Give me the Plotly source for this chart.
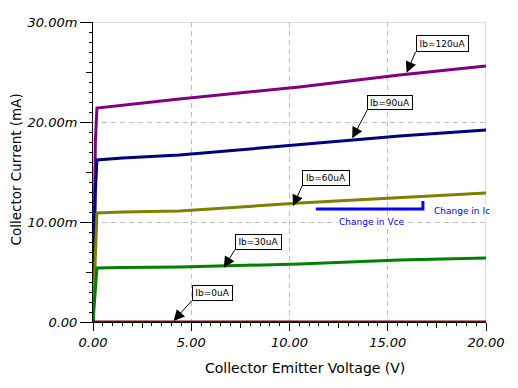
import plotly.graph_objects as go

# ---- data ----
vce = [0, 0.05, 0.12, 0.2, 1.5, 4.4, 10.5, 15.6, 20]
ic_120 = [0, 6, 18, 21.4, 21.7, 22.3, 23.5, 24.7, 25.6]
ic_90 = [0, 5, 13, 16.2, 16.4, 16.7, 17.7, 18.6, 19.2]
ic_60 = [0, 3, 8, 10.9, 11.0, 11.1, 11.9, 12.4, 12.9]
ic_30 = [0, 1.5, 4, 5.4, 5.45, 5.5, 5.8, 6.2, 6.4]
ic_0 = [0, 0, 0, 0, 0, 0, 0, 0, 0]

series_names = ["Ib=120uA", "Ib=90uA", "Ib=60uA", "Ib=30uA", "Ib=0uA"]
series_vals = [ic_120, ic_90, ic_60, ic_30, ic_0]
series_colors = ["#800080", "#000080", "#808000", "#008000", "#800000"]

# label arrow head points (Vce, Ic) on each curve
label_head_x = [15.96, 13.19, 10.18, 6.66, 4.10]
label_head_y = [24.93, 18.37, 11.6, 5.43, 0.1]

x_ticks = [0, 5, 10, 15, 20]
x_ticktext = ["0.00", "5.00", "10.00", "15.00", "20.00"]
y_ticks = [0, 10, 20, 30]
y_ticktext = ["0.00", "10.00m", "20.00m", "30.00m"]

# "change in" bracket
change_x = [11.34, 16.79, 16.79]
change_y = [11.3, 11.3, 12.1]

FONT = "DejaVu Sans"

fig = go.Figure()
for name, vals, col in zip(series_names, series_vals, series_colors):
    fig.add_trace(go.Scatter(x=vce, y=vals, mode="lines", name=name,
                             line=dict(color=col, width=3), cliponaxis=False,
                             hoverinfo="skip"))

# bracket
fig.add_trace(go.Scatter(x=change_x, y=change_y, mode="lines",
                         line=dict(color="#0000ff", width=3), hoverinfo="skip"))

# dummy trace for medium-tick overlay axes
fig.add_trace(go.Scatter(x=[None], y=[None], xaxis="x2", yaxis="y2",
                         mode="lines", hoverinfo="skip"))

# annotation boxes
box_offsets = [(9, -21), (15, -28), (9, -20), (11, -18), (18, -20)]
box_sizes = [(53, 17), (46, 15), (48, 16), (47, 16), (41, 16)]
for name, hx, hy, (ax, ay), (w, h) in zip(series_names, label_head_x, label_head_y,
                                         box_offsets, box_sizes):
    fig.add_annotation(x=hx, y=hy, ax=ax, ay=ay, text=name, showarrow=True,
                       arrowhead=2, arrowsize=2.2, arrowwidth=1, arrowcolor="black",
                       xanchor="left", yanchor="bottom",
                       bordercolor="black", borderwidth=1, borderpad=1,
                       bgcolor="white", width=w - 4, height=h - 4,
                       font=dict(family=FONT, size=9, color="black"))

fig.add_annotation(x=17.25, y=11.1, text="Change in Ic", showarrow=False,
                   xanchor="left", yanchor="middle", bgcolor="white",
                   font=dict(family=FONT, size=9, color="#0000ff"))
fig.add_annotation(x=14.19, y=10.0, text="Change in Vce", showarrow=False,
                   xanchor="center", yanchor="middle", bgcolor="white",
                   font=dict(family=FONT, size=9, color="#0000ff"))

# axis titles
fig.add_annotation(xref="paper", yref="paper", x=0.539, y=-0.153,
                   text="Collector Emitter Voltage (V)", showarrow=False,
                   xanchor="center", yanchor="middle",
                   font=dict(family=FONT, size=14, color="black"))
fig.add_annotation(xref="paper", yref="paper", x=-0.197, y=0.507,
                   text="Collector Current (mA)", showarrow=False, textangle=-90,
                   xanchor="center", yanchor="middle",
                   font=dict(family=FONT, size=13.5, color="black"))

# top / right solid borders
fig.add_shape(type="line", xref="paper", yref="y", x0=0, x1=1, y0=30, y1=30,
              line=dict(color="#c0c0c0", width=1), layer="below")
fig.add_shape(type="line", xref="x", yref="paper", x0=20, x1=20, y0=0, y1=1,
              line=dict(color="#c0c0c0", width=1), layer="below")
# small blue mark below axis
fig.add_shape(type="line", xref="x", yref="y", x0=15, x1=15, y0=-0.9, y1=-1.15,
              line=dict(color="#0000ff", width=1))

grid = dict(showgrid=True, gridcolor="#c0c0c0", griddash="5px,4px", gridwidth=1)

# the page body has an 8px margin, so the figure is 8px smaller and shifted
fig.update_layout(
    width=510, height=380,
    margin=dict(l=85, r=32, t=14, b=66),
    paper_bgcolor="white", plot_bgcolor="white",
    showlegend=False,
    font=dict(family=FONT, size=13, color="black"),
    xaxis=dict(range=[0, 20], tickvals=x_ticks, ticktext=x_ticktext,
               ticks="outside", ticklen=8, tickcolor="black",
               showline=True, linecolor="black", linewidth=1,
               zeroline=False, layer="below traces", automargin=False,
               tickfont=dict(family=FONT, size=13, style="italic"),
               minor=dict(dtick=0.5, ticks="outside", ticklen=3, tickcolor="black",
                          showgrid=False),
               **grid),
    yaxis=dict(range=[0, 30], tickvals=y_ticks, ticktext=y_ticktext,
               ticks="outside", ticklen=12, tickcolor="black",
               showline=True, linecolor="black", linewidth=1,
               zeroline=False, layer="below traces", automargin=False,
               tickfont=dict(family=FONT, size=13, style="italic"),
               minor=dict(dtick=1, ticks="outside", ticklen=3, tickcolor="black",
                          showgrid=False),
               **grid),
    xaxis2=dict(overlaying="x", anchor="y", range=[0, 20], side="bottom",
                tickvals=[2.5, 7.5, 12.5, 17.5], ticks="outside", ticklen=5,
                tickcolor="black", showticklabels=False, showgrid=False,
                showline=False, zeroline=False, automargin=False),
    yaxis2=dict(overlaying="y", anchor="x", range=[0, 30], side="left",
                tickvals=[5, 15, 25], ticks="outside", ticklen=6,
                tickcolor="black", showticklabels=False, showgrid=False,
                showline=False, zeroline=False, automargin=False),
)

fig.write_html("out.html")
